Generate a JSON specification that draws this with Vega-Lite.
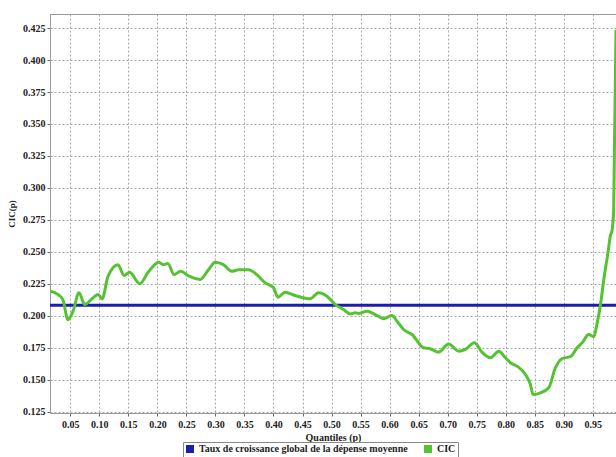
{
  "$schema": "https://vega.github.io/schema/vega-lite/v6.json",
  "autosize": "none",
  "width": 566,
  "height": 399,
  "padding": {"left": 50, "top": 14, "right": 0, "bottom": 44},
  "background": "white",
  "config": {
    "view": {"stroke": "#999", "strokeWidth": 1},
    "font": "Liberation Serif",
    "axis": {
      "labelFont": "Liberation Serif",
      "labelFontWeight": "bold",
      "labelFontSize": 10,
      "labelColor": "#222",
      "titleFont": "Liberation Serif",
      "titleFontWeight": "bold",
      "titleFontSize": 10,
      "titleColor": "#222",
      "domainColor": "#999",
      "tickColor": "#666",
      "tickSize": 3,
      "gridColor": "#aaa",
      "gridDash": [2, 2],
      "gridWidth": 1
    },
    "legend": {
      "labelFont": "Liberation Serif",
      "labelFontWeight": "bold",
      "labelFontSize": 10,
      "labelColor": "#222"
    }
  },
  "data": {
    "values": [
      {"p": 0.015, "v": 0.2083, "s": "Taux de croissance global de la dépense moyenne"},
      {"p": 0.99, "v": 0.2083, "s": "Taux de croissance global de la dépense moyenne"},
      {"p": 0.015, "v": 0.2192, "s": "CIC"},
      {"p": 0.029, "v": 0.2166, "s": "CIC"},
      {"p": 0.037, "v": 0.2128, "s": "CIC"},
      {"p": 0.046, "v": 0.197, "s": "CIC"},
      {"p": 0.0547, "v": 0.2036, "s": "CIC"},
      {"p": 0.065, "v": 0.218, "s": "CIC"},
      {"p": 0.0748, "v": 0.2088, "s": "CIC"},
      {"p": 0.089, "v": 0.214, "s": "CIC"},
      {"p": 0.098, "v": 0.2166, "s": "CIC"},
      {"p": 0.1047, "v": 0.2133, "s": "CIC"},
      {"p": 0.115, "v": 0.231, "s": "CIC"},
      {"p": 0.132, "v": 0.24, "s": "CIC"},
      {"p": 0.1426, "v": 0.2315, "s": "CIC"},
      {"p": 0.152, "v": 0.234, "s": "CIC"},
      {"p": 0.1697, "v": 0.225, "s": "CIC"},
      {"p": 0.184, "v": 0.234, "s": "CIC"},
      {"p": 0.2024, "v": 0.2419, "s": "CIC"},
      {"p": 0.21, "v": 0.24, "s": "CIC"},
      {"p": 0.218, "v": 0.241, "s": "CIC"},
      {"p": 0.2288, "v": 0.2323, "s": "CIC"},
      {"p": 0.24, "v": 0.2348, "s": "CIC"},
      {"p": 0.253, "v": 0.2315, "s": "CIC"},
      {"p": 0.267, "v": 0.229, "s": "CIC"},
      {"p": 0.2736, "v": 0.2284, "s": "CIC"},
      {"p": 0.288, "v": 0.236, "s": "CIC"},
      {"p": 0.2995, "v": 0.2419, "s": "CIC"},
      {"p": 0.3138, "v": 0.24, "s": "CIC"},
      {"p": 0.328, "v": 0.2348, "s": "CIC"},
      {"p": 0.34, "v": 0.236, "s": "CIC"},
      {"p": 0.357, "v": 0.236, "s": "CIC"},
      {"p": 0.371, "v": 0.2323, "s": "CIC"},
      {"p": 0.3857, "v": 0.2258, "s": "CIC"},
      {"p": 0.4, "v": 0.222, "s": "CIC"},
      {"p": 0.4076, "v": 0.2145, "s": "CIC"},
      {"p": 0.42, "v": 0.2184, "s": "CIC"},
      {"p": 0.4374, "v": 0.2159, "s": "CIC"},
      {"p": 0.463, "v": 0.2133, "s": "CIC"},
      {"p": 0.4776, "v": 0.218, "s": "CIC"},
      {"p": 0.492, "v": 0.2153, "s": "CIC"},
      {"p": 0.5064, "v": 0.2088, "s": "CIC"},
      {"p": 0.5207, "v": 0.2049, "s": "CIC"},
      {"p": 0.532, "v": 0.2015, "s": "CIC"},
      {"p": 0.541, "v": 0.2023, "s": "CIC"},
      {"p": 0.5466, "v": 0.2018, "s": "CIC"},
      {"p": 0.561, "v": 0.2036, "s": "CIC"},
      {"p": 0.5753, "v": 0.201, "s": "CIC"},
      {"p": 0.5897, "v": 0.1977, "s": "CIC"},
      {"p": 0.604, "v": 0.2002, "s": "CIC"},
      {"p": 0.6128, "v": 0.1958, "s": "CIC"},
      {"p": 0.624, "v": 0.1893, "s": "CIC"},
      {"p": 0.6386, "v": 0.1854, "s": "CIC"},
      {"p": 0.6586, "v": 0.175, "s": "CIC"},
      {"p": 0.67, "v": 0.1742, "s": "CIC"},
      {"p": 0.6845, "v": 0.1716, "s": "CIC"},
      {"p": 0.7017, "v": 0.178, "s": "CIC"},
      {"p": 0.719, "v": 0.1723, "s": "CIC"},
      {"p": 0.7305, "v": 0.1737, "s": "CIC"},
      {"p": 0.746, "v": 0.179, "s": "CIC"},
      {"p": 0.759, "v": 0.1716, "s": "CIC"},
      {"p": 0.7736, "v": 0.1672, "s": "CIC"},
      {"p": 0.788, "v": 0.1723, "s": "CIC"},
      {"p": 0.7995, "v": 0.1672, "s": "CIC"},
      {"p": 0.808, "v": 0.1633, "s": "CIC"},
      {"p": 0.8197, "v": 0.1606, "s": "CIC"},
      {"p": 0.834, "v": 0.1541, "s": "CIC"},
      {"p": 0.8426, "v": 0.1463, "s": "CIC"},
      {"p": 0.847, "v": 0.1385, "s": "CIC"},
      {"p": 0.86, "v": 0.1398, "s": "CIC"},
      {"p": 0.874, "v": 0.1437, "s": "CIC"},
      {"p": 0.8857, "v": 0.1594, "s": "CIC"},
      {"p": 0.897, "v": 0.1666, "s": "CIC"},
      {"p": 0.9115, "v": 0.168, "s": "CIC"},
      {"p": 0.923, "v": 0.175, "s": "CIC"},
      {"p": 0.9317, "v": 0.1789, "s": "CIC"},
      {"p": 0.943, "v": 0.1854, "s": "CIC"},
      {"p": 0.9517, "v": 0.1836, "s": "CIC"},
      {"p": 0.9576, "v": 0.1945, "s": "CIC"},
      {"p": 0.9633, "v": 0.2088, "s": "CIC"},
      {"p": 0.969, "v": 0.2284, "s": "CIC"},
      {"p": 0.977, "v": 0.252, "s": "CIC"},
      {"p": 0.98, "v": 0.262, "s": "CIC"},
      {"p": 0.9834, "v": 0.2674, "s": "CIC"},
      {"p": 0.986, "v": 0.283, "s": "CIC"},
      {"p": 0.9874, "v": 0.335, "s": "CIC"},
      {"p": 0.989, "v": 0.387, "s": "CIC"},
      {"p": 0.99, "v": 0.4237, "s": "CIC"}
    ]
  },
  "mark": {"type": "line", "strokeWidth": 3, "clip": true, "interpolate": "monotone"},
  "encoding": {
    "x": {
      "field": "p",
      "type": "quantitative",
      "scale": {"domain": [0.015, 0.99], "nice": false, "zero": false},
      "axis": {
        "title": "Quantiles (p)",
        "values": [0.05, 0.1, 0.15, 0.2, 0.25, 0.3, 0.35, 0.4, 0.45, 0.5, 0.55, 0.6, 0.65, 0.7, 0.75, 0.8, 0.85, 0.9, 0.95],
        "format": ".2f",
        "labelPadding": 3,
        "titlePadding": 3
      }
    },
    "y": {
      "field": "v",
      "type": "quantitative",
      "scale": {"domain": [0.124, 0.436], "nice": false, "zero": false},
      "axis": {
        "title": "CIC(p)",
        "values": [0.125, 0.15, 0.175, 0.2, 0.225, 0.25, 0.275, 0.3, 0.325, 0.35, 0.375, 0.4, 0.425],
        "format": ".3f",
        "labelPadding": 2,
        "titlePadding": 6,
        "titleFontSize": 9
      }
    },
    "color": {
      "field": "s",
      "type": "nominal",
      "scale": {
        "domain": ["Taux de croissance global de la dépense moyenne", "CIC"],
        "range": ["#1c1cb4", "#55c234"]
      },
      "legend": {
        "title": null,
        "orient": "none",
        "direction": "horizontal",
        "legendX": 133,
        "legendY": 428,
        "symbolType": "square",
        "symbolSize": 16,
        "symbolStrokeWidth": 4,
        "labelLimit": 400,
        "strokeColor": "#888",
        "padding": 2,
        "columnPadding": 10,
        "labelOffset": 4
      }
    }
  }
}
